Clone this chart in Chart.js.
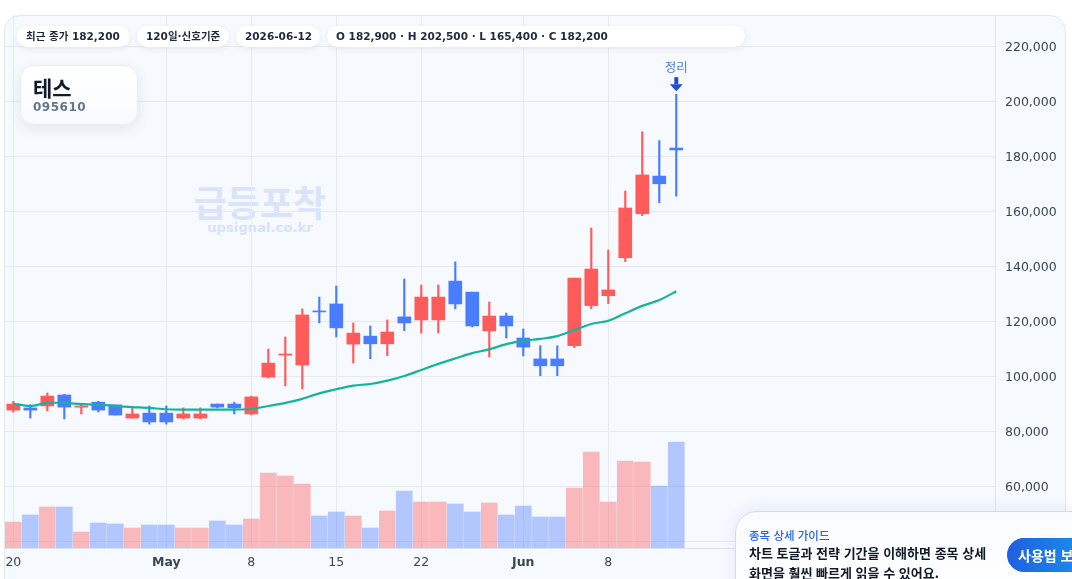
<!DOCTYPE html>
<html lang="ko">
<head>
<meta charset="utf-8">
<script src="https://cdn.jsdelivr.net/npm/chart.js@4.4.1/dist/chart.umd.min.js"></script>
<style>
  html, body { margin: 0; padding: 0; width: 1072px; height: 579px; overflow: hidden; background: #ffffff; }
  body { position: relative; font-family: "DejaVu Sans", "Noto Sans CJK KR", sans-serif; }
  #card { position: absolute; left: 4px; top: 15px; width: 1062px; height: 620px; box-sizing: border-box;
          background: #f6f9fe; border: 1px solid #e3e8ef; border-radius: 16px; }
  #wrap { position: absolute; left: 5px; top: 15px; width: 1061px; height: 564px; }
  .wm1 { position: absolute; left: 160px; width: 200px; top: 175px; text-align: center; font: 700 36px "Noto Sans CJK KR", sans-serif; color: #d9e4fb; }
  .wm2 { position: absolute; left: 160px; width: 200px; top: 220px; text-align: center; font: 700 13px "DejaVu Sans", sans-serif; color: #d6e2fb; letter-spacing: 0.1px; }
  .chips { position: absolute; left: 17px; top: 26px; display: flex; gap: 7px; }
  .chip { height: 21px; line-height: 21px; box-sizing: border-box; padding: 0 9px; background: #ffffff; border-radius: 11px;
          box-shadow: 0 2px 6px rgba(15, 23, 42, 0.07); font-size: 10.5px; font-weight: 700; color: #1e293b; white-space: nowrap; }
  .title { position: absolute; left: 20px; top: 65px; width: 118px; height: 60px; box-sizing: border-box; border-radius: 14px;
           background: linear-gradient(180deg, #ffffff, #f8fbff); border: 1px solid #e8edf4; box-shadow: 0 4px 14px rgba(15, 23, 42, 0.08); }
  .title .name { position: absolute; left: 12px; top: 6px; font: 700 21px "Noto Sans CJK KR", sans-serif; color: #111827; }
  .title .code { position: absolute; left: 12px; top: 34px; font: 700 12px "DejaVu Sans", sans-serif; color: #64748b; letter-spacing: 0.5px; }
  .guide { position: absolute; left: 735px; top: 511px; width: 360px; height: 100px; box-sizing: border-box; border-radius: 22px;
           background: linear-gradient(180deg, #f9fbff, #ffffff); border: 1px solid #cfdcf7; box-shadow: 0 -2px 16px rgba(30, 64, 175, 0.08); }
  .guide .t1 { position: absolute; left: 13px; top: 15px; font: 500 11.5px "Noto Sans CJK KR", sans-serif; color: #2563eb; }
  .guide .t2 { position: absolute; left: 13px; top: 31px; font: 700 13px "Noto Sans CJK KR", sans-serif; color: #111827; line-height: 20px; }
  .guide .btn { position: absolute; left: 271px; top: 26px; width: 100px; height: 34px; border-radius: 17px; box-sizing: border-box; padding-left: 11px;
                background: linear-gradient(90deg, #1f5fe0, #1a9cf0); color: #ffffff; font: 700 14px "Noto Sans CJK KR", sans-serif; line-height: 34px; }
</style>
</head>
<body>
<div id="card"></div>
<div class="wm1">급등포착</div>
<div class="wm2">upsignal.co.kr</div>
<div id="wrap"><canvas id="chartCanvas" width="1061" height="564"></canvas></div>

<div class="chips">
  <div class="chip" style="width:113px">최근 종가 182,200</div>
  <div class="chip" style="width:92px">120일·신호기준</div>
  <div class="chip" style="width:84px">2026-06-12</div>
  <div class="chip" style="width:418px">O 182,900 · H 202,500 · L 165,400 · C 182,200</div>
</div>

<div class="title">
  <div class="name">테스</div>
  <div class="code">095610</div>
</div>

<div class="guide">
  <div class="t1">종목 상세 가이드</div>
  <div class="t2">차트 토글과 전략 기간을 이해하면 종목 상세<br>화면을 훨씬 빠르게 읽을 수 있어요.</div>
  <div class="btn">사용법 보기</div>
</div>

<script>
// 거래일 (주말 제외)
const dates = [
  '2026-04-20', '2026-04-21', '2026-04-22', '2026-04-23', '2026-04-24',
  '2026-04-27', '2026-04-28', '2026-04-29', '2026-04-30', '2026-05-01',
  '2026-05-04', '2026-05-05', '2026-05-06', '2026-05-07', '2026-05-08',
  '2026-05-11', '2026-05-12', '2026-05-13', '2026-05-14', '2026-05-15',
  '2026-05-18', '2026-05-19', '2026-05-20', '2026-05-21', '2026-05-22',
  '2026-05-25', '2026-05-26', '2026-05-27', '2026-05-28', '2026-05-29',
  '2026-06-01', '2026-06-02', '2026-06-03', '2026-06-04', '2026-06-05',
  '2026-06-08', '2026-06-09', '2026-06-10', '2026-06-11', '2026-06-12',
];

const opens = [
  87600, 88400, 89100, 93100, 88700, 90500, 89500, 84700, 86500, 86500,
  84700, 84700, 89800, 89800, 86200, 99600, 107600, 104000, 123600, 126200,
  111600, 114500, 111700, 121500, 120400, 120400, 134500, 130500, 116400, 121800,
  113800, 106200, 106200, 111000, 125600, 129200, 143000, 159000, 172700, 182900,
];
const highs = [
  90800, 89600, 93800, 93300, 89800, 90800, 89500, 88700, 89100, 89100,
  88400, 88400, 89800, 90500, 92700, 109800, 114200, 124400, 128700, 132700,
  119300, 118200, 120400, 135300, 133100, 133100, 141500, 130500, 126900, 122900,
  117100, 111000, 111000, 135600, 153800, 145800, 167300, 188800, 185600, 202500,
];
const lows = [
  86900, 84700, 87300, 84400, 86200, 86900, 85800, 84700, 82500, 82500,
  84400, 84400, 88400, 86200, 85800, 99300, 96400, 95300, 119300, 114200,
  104700, 106300, 107400, 116500, 115600, 115600, 124400, 117800, 106900, 113800,
  107300, 100100, 100100, 110300, 124500, 126300, 141600, 158300, 163000, 165400,
];
const closes = [
  89800, 87600, 92700, 88700, 89100, 87600, 85800, 86200, 83300, 83300,
  86200, 86200, 88700, 88400, 92400, 104700, 108000, 122200, 123300, 117500,
  115600, 111700, 116000, 119300, 128700, 128700, 126200, 118200, 121800, 118200,
  110500, 103700, 103700, 135600, 138900, 131300, 161100, 173100, 169900, 182200,
];
const volumes = [
  130000, 165000, 205000, 205000, 80000, 125000, 120000, 100000, 115000, 115000,
  100000, 100000, 135000, 115000, 145000, 375000, 360000, 320000, 160000, 180000,
  160000, 100000, 185000, 285000, 230000, 230000, 220000, 180000, 225000, 165000,
  210000, 155000, 155000, 300000, 480000, 230000, 435000, 430000, 310000, 530000,
];
// 이동평균선
const maLine = [
  89900, 89100, 90200, 90200, 89800, 89600, 89100, 88700, 88400, 87900,
  87800, 87800, 87800, 87800, 88000, 89100, 90200, 91700, 93700, 95200,
  96500, 97100, 98300, 100000, 102200, 104400, 106400, 108300, 109700, 111600,
  112800, 113500, 114500, 116700, 118900, 120100, 122800, 125500, 127600, 130800,
];

// 축 라벨
const tickDates = ['2026-04-20', '2026-05-01', '2026-05-08', '2026-05-15', '2026-05-22', '2026-06-01', '2026-06-08'];
const tickLabels = ['20', 'May', '8', '15', '22', 'Jun', '8'];
const priceTicks = [40000, 60000, 80000, 100000, 120000, 140000, 160000, 180000, 200000, 220000];

// 신호 표시
const signalDate = '2026-06-12';
const signalLabel = '정리';

const UP = '#ff5b5b';
const DOWN = '#4a7cff';
const UP_VOL = 'rgba(255, 90, 90, 0.4)';
const DOWN_VOL = 'rgba(75, 125, 255, 0.4)';

const isUp = (i) => closes[i] >= opens[i];
const tickIdx = tickDates.map((d) => dates.indexOf(d));

const bodyData = dates.map((d, i) => ({ x: i, y: [opens[i], closes[i]] }));
const wickData = dates.map((d, i) => ({ x: i, y: [lows[i], highs[i]] }));
const volData = dates.map((d, i) => ({ x: i, y: volumes[i] }));
const maData = dates.map((d, i) => ({ x: i, y: maLine[i] }));

// 신호 화살표 그리기
const signalPlugin = {
  id: 'signalPlugin',
  afterDatasetsDraw(chart) {
    const idx = dates.indexOf(signalDate);
    if (idx < 0) return;
    const ctx = chart.ctx;
    const x = chart.scales.x.getPixelForValue(idx);
    const top = chart.scales.y.getPixelForValue(highs[idx]);
    ctx.save();
    ctx.fillStyle = '#1d4ed8';
    // 화살표
    ctx.fillRect(x - 2, top - 17, 4, 7);
    ctx.beginPath();
    ctx.moveTo(x - 6.5, top - 10);
    ctx.lineTo(x + 6.5, top - 10);
    ctx.lineTo(x, top - 3);
    ctx.closePath();
    ctx.fill();
    ctx.fillStyle = '#4a78e8';
    ctx.font = '12.5px "Noto Sans CJK KR", sans-serif';
    ctx.textAlign = 'center';
    ctx.textBaseline = 'middle';
    ctx.fillText(signalLabel, x, top - 27);
    ctx.restore();
  },
};

const chartCanvas = document.getElementById('chartCanvas');
const chart = new Chart(chartCanvas.getContext('2d'), {
  type: 'bar',
  data: {
    datasets: [
      {
        type: 'line',
        label: 'MA',
        data: maData,
        borderColor: '#15b39e',
        borderWidth: 2.2,
        pointRadius: 0,
        tension: 0.3,
        order: 0,
      },
      {
        label: 'body',
        data: bodyData,
        backgroundColor: dates.map((d, i) => (isUp(i) ? UP : DOWN)),
        barThickness: 13,
        minBarLength: 1,
        grouped: false,
        order: 1,
      },
      {
        label: 'wick',
        data: wickData,
        backgroundColor: dates.map((d, i) => (isUp(i) ? UP : DOWN)),
        barThickness: 1.5,
        grouped: false,
        order: 2,
      },
      {
        label: 'volume',
        data: volData,
        yAxisID: 'yv',
        backgroundColor: dates.map((d, i) => (isUp(i) ? UP_VOL : DOWN_VOL)),
        barThickness: 16,
        grouped: false,
        order: 3,
      },
    ],
  },
  options: {
    responsive: false,
    animation: false,
    events: [],
    layout: { padding: 0 },
    plugins: { legend: { display: false }, tooltip: { enabled: false } },
    scales: {
      x: {
        type: 'linear',
        min: -0.49,
        max: 57.75,
        offset: false,
        bounds: 'data',
        grid: { color: '#e6eaf0', drawTicks: false, offset: false },
        border: { display: true, color: '#dde3ec' },
        afterBuildTicks: (s) => { s.ticks = tickIdx.map((v) => ({ value: v })); },
        afterFit: (s) => { s.height = 31; s.paddingLeft = 0; s.paddingRight = 0; },
        ticks: {
          autoSkip: false,
          maxRotation: 0,
          padding: 7,
          color: '#3b4556',
          font: (c) => ({
            family: '"DejaVu Sans", sans-serif',
            size: 12.5,
            weight: c.tick && isNaN(Number(c.tick.label)) ? 'bold' : 'normal',
          }),
          callback: (value, index) => tickLabels[index],
        },
      },
      y: {
        position: 'right',
        min: 37455,
        max: 231273,
        grid: { color: '#e6eaf0', drawTicks: false },
        border: { display: true, color: '#dfe5ee' },
        afterBuildTicks: (s) => { s.ticks = priceTicks.map((v) => ({ value: v })); },
        afterFit: (s) => { s.width = 71; s.paddingTop = 0; s.paddingBottom = 0; },
        ticks: {
          padding: 10,
          labelOffset: 2,
          color: '#3b4556',
          font: { family: '"DejaVu Sans", sans-serif', size: 12.5 },
          callback: (v) => v.toLocaleString('en-US'),
        },
      },
      yv: {
        display: false,
        min: 0,
        max: 2665000,
      },
    },
  },
  plugins: [signalPlugin],
});
</script>
</body>
</html>
